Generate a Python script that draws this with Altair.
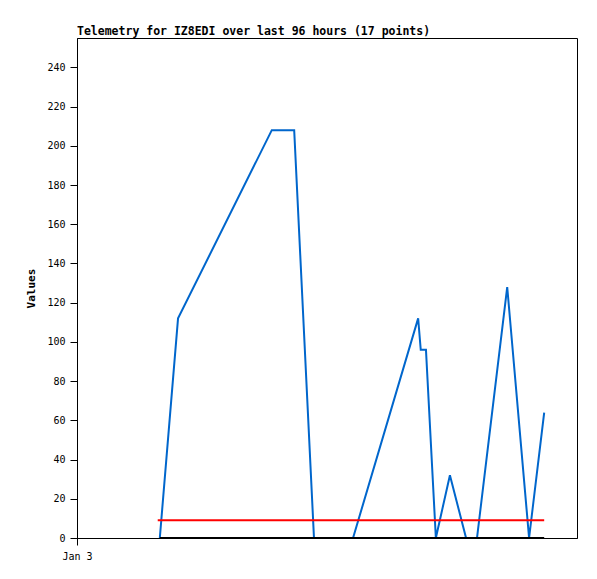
import altair as alt
import pandas as pd

# hours since start of Jan 3 (x axis spans 96 hours)
hours = [15.9, 19.4, 37.4, 41.7, 45.5, 53.0, 65.5, 66.0, 67.0, 68.9, 71.6, 74.7, 76.8, 82.6, 86.8, 89.7]
values = [0, 112, 208, 208, 0, 0, 112, 96, 96, 0, 32, 0, 0, 128, 0, 64]

ref_hours = [15.5, 89.7]
red_level = [9, 9]
zero_level = [0, 0]

df = pd.DataFrame({"h": hours, "v": values})
ref_red = pd.DataFrame({"h": ref_hours, "v": red_level})
ref_zero = pd.DataFrame({"h": [15.9, 89.7], "v": zero_level})

FONT = "DejaVu Sans Mono"

x_enc = alt.X("h:Q", scale=alt.Scale(domain=[0, 96], nice=False),
              axis=alt.Axis(values=[0], labelExpr="'Jan 3'", title=None, grid=False,
                            tickSize=7, labelPadding=6, domainColor="black", tickColor="black",
                            labelFlush=False, labelAlign="center",
                            labelFont=FONT, labelFontSize=10, labelColor="black"))
y_enc = alt.Y("v:Q", scale=alt.Scale(domain=[0, 255], nice=False),
              axis=alt.Axis(values=list(range(0, 241, 20)), title="Values", grid=False,
                            tickSize=7, labelPadding=5, domainColor="black", tickColor="black",
                            labelFont=FONT, labelFontSize=10, labelColor="black",
                            titleFont=FONT, titleFontSize=11, titleFontWeight="bold",
                            titleColor="black", titlePadding=10))

zero_line = alt.Chart(ref_zero).mark_line(color="black", strokeWidth=2).encode(x=x_enc, y=y_enc)
red_line = alt.Chart(ref_red).mark_line(color="#FF0000", strokeWidth=2).encode(x=x_enc, y=y_enc)
blue_line = alt.Chart(df).mark_line(color="#0066CC", strokeWidth=2).encode(x=x_enc, y=y_enc)

chart = alt.layer(blue_line, red_line, zero_line).properties(
    width=500, height=500,
    title=alt.TitleParams("Telemetry for IZ8EDI over last 96 hours (17 points)",
                          anchor="start", frame="group", font=FONT, fontSize=11.5,
                          fontWeight="bold", color="black", offset=1),
    autosize=alt.AutoSizeParams(type="none"),
    padding={"left": 69, "top": 30, "right": 10, "bottom": 30},
).configure_view(stroke="black", strokeWidth=1)

chart.save("out.html", embed_options={"renderer": "svg", "actions": False})
